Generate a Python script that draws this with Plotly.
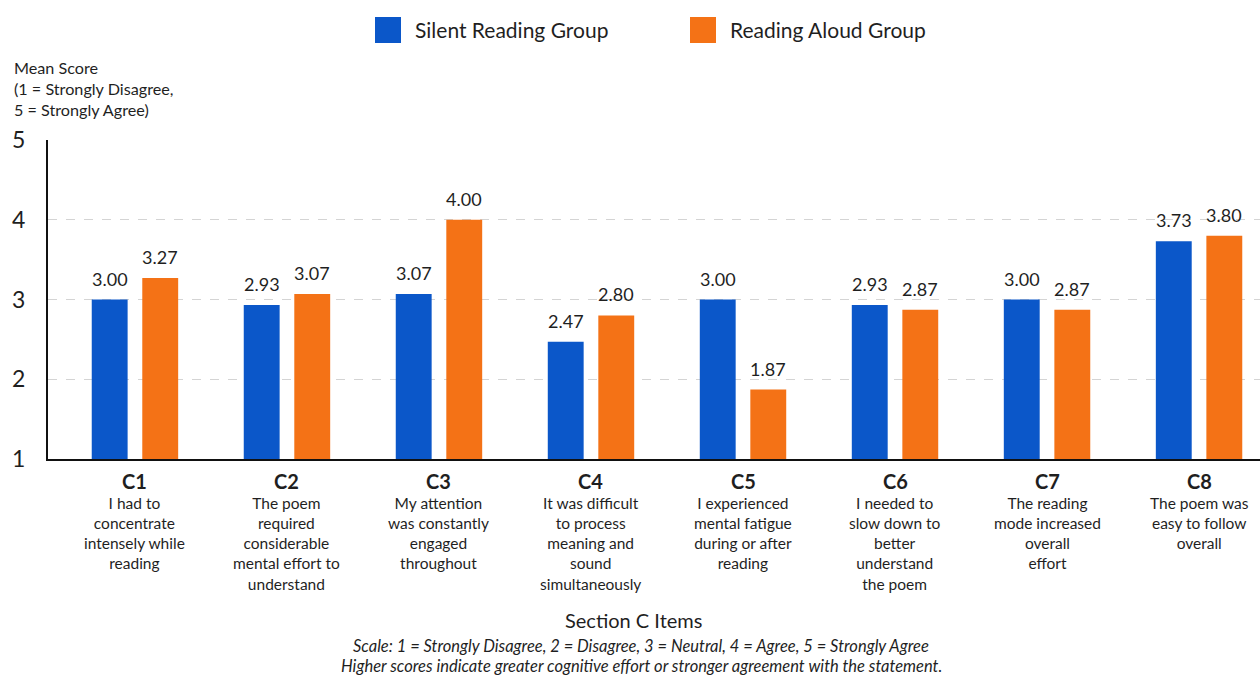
import plotly.graph_objects as go

# Section C questionnaire items
items = ["C1", "C2", "C3", "C4", "C5", "C6", "C7", "C8"]
descriptions = [
    "I had to<br>concentrate<br>intensely while<br>reading",
    "The poem<br>required<br>considerable<br>mental effort to<br>understand",
    "My attention<br>was constantly<br>engaged<br>throughout",
    "It was difficult<br>to process<br>meaning and<br>sound<br>simultaneously",
    "I experienced<br>mental fatigue<br>during or after<br>reading",
    "I needed to<br>slow down to<br>better<br>understand<br>the poem",
    "The reading<br>mode increased<br>overall<br>effort",
    "The poem was<br>easy to follow<br>overall",
]
silent_scores = [3.00, 2.93, 3.07, 2.47, 3.00, 2.93, 3.00, 3.73]
aloud_scores = [3.27, 3.07, 4.00, 2.80, 1.87, 2.87, 2.87, 3.80]
series_names = ["Silent Reading Group", "Reading Aloud Group"]
yticks = [1, 2, 3, 4, 5]

BLUE = "#0B57C9"
ORANGE = "#F47216"
TEXT = "#1f1f1f"
FONT = "Lato"

# pixel geometry of the plotting area
L, R, T, B = 48, 0, 140, 216
PW, PH = 1260 - L - R, 675 - T - B
BARGAP = 0.335
X_RANGE = [-0.572, 7.401]
# half the width of one bar slot within a group, in pixels
slot_px = PW / (X_RANGE[1] - X_RANGE[0]) * (1 - BARGAP) / 2
half_slot = slot_px / 2

fig = go.Figure()
annotations = []
for k, (name, vals, col) in enumerate([(series_names[0], silent_scores, BLUE),
                                       (series_names[1], aloud_scores, ORANGE)]):
    fig.add_trace(go.Bar(
        x=items, y=vals, name=name, marker_color=col, marker_line_width=0,
        showlegend=False,
    ))
    # value labels above each bar
    shift = -half_slot if k == 0 else half_slot
    for it, v in zip(items, vals):
        annotations.append(dict(
            x=it, xref="x", y=v, yref="y", xshift=shift, yshift=8,
            text=f"{v:.2f}", showarrow=False, xanchor="center", yanchor="bottom",
            font=dict(family=FONT, size=18, color=TEXT)))

for it, desc in zip(items, descriptions):
    annotations.append(dict(
        x=it, xref="x", y=0, yref="paper", yshift=-8, text=f"<b>{it}</b>",
        showarrow=False, xanchor="center", yanchor="top",
        font=dict(family=FONT, size=20, color=TEXT)))
    annotations.append(dict(
        x=it, xref="x", y=0, yref="paper", yshift=-33, text=desc,
        showarrow=False, xanchor="center", yanchor="top", align="center",
        font=dict(family=FONT, size=15.5, color=TEXT)))

# y-axis caption
annotations.append(dict(
    xref="paper", yref="paper", x=(12 - L) / PW, y=1 + (T - 56) / PH,
    xanchor="left", yanchor="top",
    text="Mean Score<br>(1 = Strongly Disagree,<br>5 = Strongly Agree)",
    align="left", showarrow=False,
    font=dict(family=FONT, size=16.2, color=TEXT)))

# x-axis title and footnotes
annotations.append(dict(
    xref="paper", yref="paper", x=(633 - L) / PW, y=-(620 - T - PH) / PH,
    xanchor="center", yanchor="middle",
    text="Section C Items", showarrow=False,
    font=dict(family=FONT, size=20, color=TEXT)))
annotations.append(dict(
    xref="paper", yref="paper", x=(641 - L) / PW, y=-(646 - T - PH) / PH,
    xanchor="center", yanchor="middle",
    text="<i>Scale: 1 = Strongly Disagree, 2 = Disagree, 3 = Neutral, 4 = Agree, 5 = Strongly Agree</i>",
    showarrow=False, font=dict(family=FONT, size=16.5, color=TEXT)))
annotations.append(dict(
    xref="paper", yref="paper", x=(641 - L) / PW, y=-(666 - T - PH) / PH,
    xanchor="center", yanchor="middle",
    text="<i>Higher scores indicate greater cognitive effort or stronger agreement with the statement.</i>",
    showarrow=False, font=dict(family=FONT, size=16.5, color=TEXT)))

# legend drawn as swatches with labels, centred at the top
shapes = []
legend_items = [(series_names[0], BLUE, 375), (series_names[1], ORANGE, 690)]
for name, col, px in legend_items:
    fx = (px - L) / PW
    shapes.append(dict(type="rect", xref="paper", yref="paper",
                       x0=fx, x1=fx + 26 / PW,
                       y0=1 + (T - 43) / PH, y1=1 + (T - 17) / PH,
                       fillcolor=col, line_width=0))
    annotations.append(dict(
        xref="paper", yref="paper", x=fx + 38 / PW, y=1 + (T - 30) / PH,
        xanchor="left", yanchor="middle", text=name, showarrow=False,
        font=dict(family=FONT, size=21, color=TEXT)))

fig.update_layout(
    width=1260, height=675,
    margin=dict(l=L, r=R, t=T, b=B),
    paper_bgcolor="white", plot_bgcolor="white",
    barmode="group", bargap=BARGAP, bargroupgap=0.29,
    annotations=annotations, shapes=shapes,
    xaxis=dict(range=X_RANGE, showticklabels=False, ticks="",
               showline=True, linecolor="#111", linewidth=2, showgrid=False,
               zeroline=False),
    yaxis=dict(range=[1, 5], tickvals=yticks, showline=True, linecolor="#111",
               linewidth=2, ticks="", showgrid=True, gridcolor="#d4d4d4",
               griddash="dash", gridwidth=1, zeroline=False,
               tickfont=dict(family=FONT, size=23, color=TEXT),
               ticklabelstandoff=16),
    font=dict(family=FONT, color=TEXT),
)

fig.write_html("out.html")
